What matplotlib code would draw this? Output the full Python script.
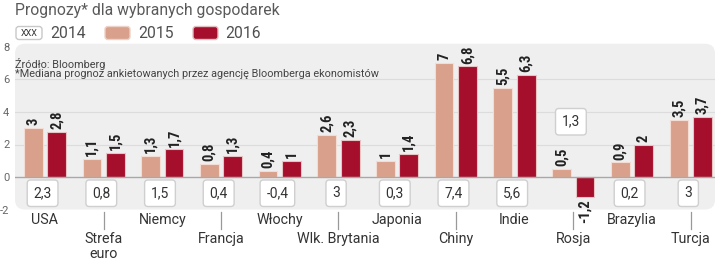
import matplotlib
matplotlib.use('Agg')
import matplotlib.pyplot as plt
from matplotlib import font_manager
from matplotlib.patches import FancyBboxPatch
from matplotlib.transforms import blended_transform_factory
import numpy as np

countries = ['USA', 'Strefa\neuro', 'Niemcy', 'Francja', 'Włochy', 'Wlk. Brytania',
             'Japonia', 'Chiny', 'Indie', 'Rosja', 'Brazylia', 'Turcja']
y2014 = [2.3, 0.8, 1.5, 0.4, -0.4, 3, 0.3, 7.4, 5.6, 1.3, 0.2, 3]
y2015 = [3, 1.1, 1.3, 0.8, 0.4, 2.6, 1, 7, 5.5, 0.5, 0.9, 3.5]
y2016 = [2.8, 1.5, 1.7, 1.3, 1, 2.3, 1.4, 6.8, 6.3, -1.2, 2, 3.7]
years = ['2014', '2015', '2016']
yticks = [-2, 0, 2, 4, 6, 8]

C15 = '#d9a08b'
C16 = '#a50f2c'
PANEL = '#efefef'

installed = {f.name for f in font_manager.fontManager.ttflist}
narrow = next((f for f in ['Roboto Condensed', 'Liberation Sans Narrow',
                           'DejaVu Sans Condensed', 'Roboto'] if f in installed), 'DejaVu Sans')
plt.rcParams['font.family'] = ['Roboto', 'DejaVu Sans']


def fmt(v):
    return f'{v:g}'.replace('.', ',')


W, H = 720, 264
fig = plt.figure(figsize=(W / 100, H / 100), dpi=100)
left, right, top, bottom = 15, 715, 43.75, 209.5
ax = fig.add_axes([left / W, 1 - bottom / H, (right - left) / W, (bottom - top) / H])
ax.patch.set_visible(False)

aw, ah = right - left, bottom - top
ax.add_patch(FancyBboxPatch((0, 0), 1, 1, boxstyle='round,pad=0,rounding_size=0.014',
                            mutation_aspect=aw / ah, transform=ax.transAxes,
                            facecolor=PANEL, edgecolor='none', zorder=0, clip_on=False))

x = np.arange(len(countries))
ax.set_xlim(-0.51, 11.415)
ax.set_ylim(-2, 8.2)

for g in [2, 4, 6]:
    ax.axhline(g, color='#dcdcdc', lw=0.8, zorder=1)
ax.axhline(0, color='#a8a8a8', lw=1, zorder=3)

bw, off = 0.32, 0.2
ax.bar(x - off, y2015, bw, color=C15, edgecolor='#f2dcd3', lw=0.8, zorder=2)
ax.bar(x + off, y2016, bw, color=C16, edgecolor='#e6c4c4', lw=0.8, zorder=2)

for xs, vals in [(x - off, y2015), (x + off, y2016)]:
    for xi, v in zip(xs, vals):
        up = v >= 0
        ax.annotate(fmt(v), (xi, v), xytext=(0, 2 if up else -2), textcoords='offset points',
                    rotation=90, ha='center', va='bottom' if up else 'top', fontsize=10.5,
                    fontweight='bold', family=narrow, color='#222222')

for i, (name, v) in enumerate(zip(countries, y2014)):
    by = 3.4 if name == 'Rosja' else -1.0
    ax.text(x[i] - 0.04, by, fmt(v), ha='center', va='center', fontsize=10, color='#333333',
            zorder=4, bbox=dict(boxstyle='round,pad=0.45,rounding_size=0.25', fc='white',
                                ec='#cfcfcf', lw=1))

ax.set_yticks(yticks)
ax.set_yticklabels([str(t) for t in yticks])
ax.tick_params(axis='y', length=0, pad=4, labelsize=8, labelcolor='#666666')
ax.set_xticks([])
for s in ax.spines.values():
    s.set_visible(False)

trans = blended_transform_factory(ax.transData, fig.transFigure)
for i, name in enumerate(countries):
    if i % 2 == 0:
        ax.text(x[i], 1 - 220 / H, name, transform=trans, ha='center', va='center',
                fontsize=10.3, color='#333333')
    else:
        ax.text(x[i], 1 - 232 / H, name, transform=trans, ha='center', va='top',
                fontsize=10.3, color='#333333', linespacing=1.1)
        ax.plot([x[i], x[i]], [1 - 212 / H, 1 - 229 / H], transform=trans, color='#999999',
                lw=0.9, clip_on=False)

ax.text(0, 1 - (64 - top) / ah, 'Źródło: Bloomberg', transform=ax.transAxes,
        ha='left', va='center', fontsize=7.8, color='#444444')
ax.text(0, 1 - (74 - top) / ah, '*Mediana prognoz ankietowanych przez agencję Bloomberga ekonomistów',
        transform=ax.transAxes, ha='left', va='center', fontsize=7.8, color='#444444')

fig.text(15 / W, 1 - 10 / H, 'Prognozy* dla wybranych gospodarek', ha='left', va='center',
         fontsize=11.3, color='#5a5a5a')


def swatch(x0, x1, fc, ec):
    fig.patches.append(FancyBboxPatch((x0 / W, 1 - 39.5 / H), (x1 - x0) / W, 13 / H,
                                      boxstyle='round,pad=0,rounding_size=0.004',
                                      mutation_aspect=W / H, transform=fig.transFigure,
                                      fc=fc, ec=ec, lw=1, figure=fig))


swatch(16, 42, 'white', '#c8c8c8')
fig.text(29 / W, 1 - 33 / H, 'XXX', ha='center', va='center', fontsize=6.5, color='#333333')
swatch(105, 130, C15, '#ecd2c8')
swatch(193, 218, C16, '#e0c0c0')
for xt, lab in zip([50, 138, 225], years):
    fig.text(xt / W, 1 - 33 / H, lab, ha='left', va='center', fontsize=11.3,
             color='#505050')

fig.savefig('out.png', dpi=100)
